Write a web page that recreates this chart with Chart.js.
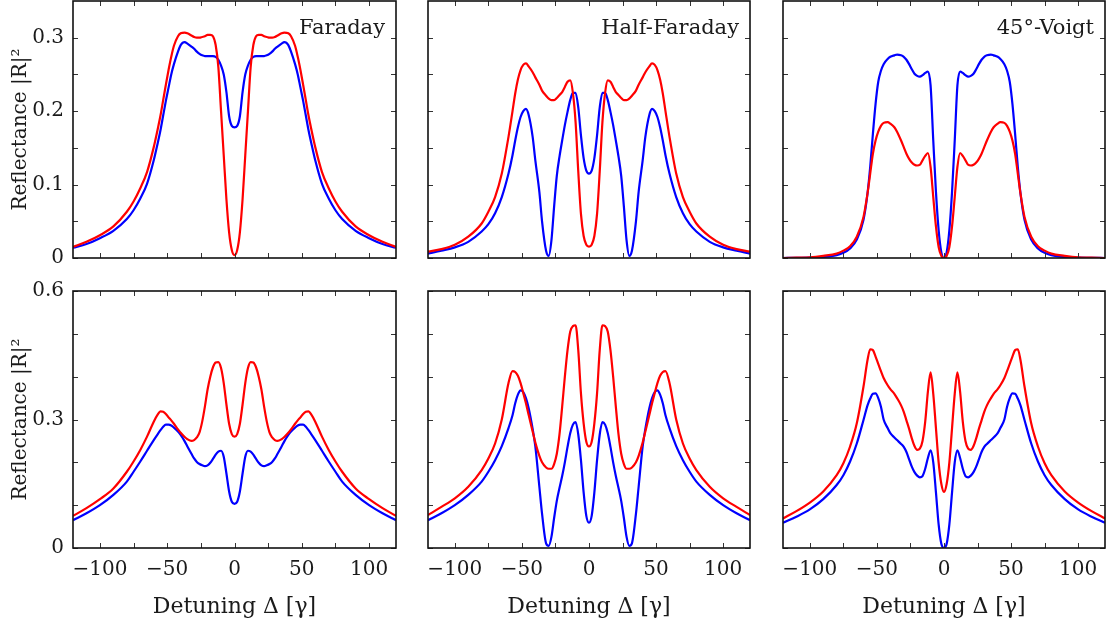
<!DOCTYPE html>
<html>
<head>
<meta charset="utf-8">
<title>Reflectance vs detuning</title>
<script src="https://cdn.jsdelivr.net/npm/chart.js@4.4.1/dist/chart.umd.min.js"></script>
<style>
  html, body { margin: 0; padding: 0; background: #fff; }
  #figure { position: relative; width: 1112px; height: 626px; overflow: hidden; }
  #figure canvas { position: absolute; }
</style>
</head>
<body>
<div id="figure"></div>
<script>
// detuning grid (units of gamma), shared by every curve
const detuning = [-120,-110,-100,-90,-80,-75,-70,-65,-60,-57,-55,-53,-51,-49,-47,-45,-42,-40,-37,-35,-32,-30,-28,-26,-24,-22,-20,-18,-16,-14,-12,-10,-8,-6,-4,-2,
  0,
  2,4,6,8,10,12,14,16,18,20,22,24,26,28,30,32,35,37,40,42,45,47,49,51,53,55,57,60,65,70,75,80,90,100,110,120];

// top row
const faradayBlueTop = [0.014,0.019,0.027,0.037,0.053,0.065,0.081,0.101,0.133,0.157,0.174,0.194,0.214,0.232,0.250,0.264,0.281,0.290,0.294,0.292,0.288,0.285,0.281,0.278,0.276,0.275,0.275,0.275,0.275,0.274,0.270,0.262,0.250,0.226,0.193,0.180,
  0.178,
  0.180,0.193,0.226,0.250,0.262,0.270,0.274,0.275,0.275,0.275,0.275,0.276,0.278,0.281,0.285,0.288,0.292,0.294,0.290,0.281,0.264,0.250,0.232,0.214,0.194,0.174,0.157,0.133,0.101,0.081,0.065,0.053,0.037,0.027,0.019,0.014];
const faradayRedTop = [0.015,0.022,0.031,0.043,0.063,0.077,0.095,0.117,0.151,0.176,0.194,0.215,0.236,0.256,0.274,0.289,0.302,0.306,0.307,0.306,0.303,0.301,0.300,0.300,0.301,0.302,0.304,0.304,0.302,0.290,0.260,0.200,0.140,0.080,0.035,0.011,
  0.004,
  0.011,0.035,0.080,0.140,0.200,0.260,0.290,0.302,0.304,0.304,0.302,0.301,0.300,0.300,0.301,0.303,0.306,0.307,0.306,0.302,0.289,0.274,0.256,0.236,0.215,0.194,0.176,0.151,0.117,0.095,0.077,0.063,0.043,0.031,0.022,0.015];
const halfBlueTop = [0.006,0.010,0.0145,0.022,0.036,0.046,0.061,0.083,0.115,0.140,0.160,0.178,0.192,0.200,0.203,0.195,0.165,0.133,0.090,0.050,0.010,0.003,0.024,0.070,0.112,0.138,0.160,0.181,0.199,0.215,0.225,0.225,0.205,0.167,0.136,0.119,
  0.115,
  0.119,0.136,0.167,0.205,0.225,0.225,0.215,0.199,0.181,0.160,0.138,0.112,0.070,0.024,0.003,0.010,0.050,0.090,0.133,0.165,0.195,0.203,0.200,0.192,0.178,0.160,0.140,0.115,0.083,0.061,0.046,0.036,0.022,0.0145,0.010,0.006];
const halfRedTop = [0.0086,0.012,0.018,0.029,0.047,0.063,0.083,0.115,0.165,0.200,0.224,0.243,0.256,0.263,0.265,0.261,0.253,0.246,0.236,0.228,0.221,0.217,0.215,0.215,0.218,0.222,0.226,0.233,0.240,0.242,0.225,0.185,0.118,0.060,0.030,0.018,
  0.0155,
  0.018,0.030,0.060,0.118,0.185,0.225,0.242,0.240,0.233,0.226,0.222,0.218,0.215,0.215,0.217,0.221,0.228,0.236,0.246,0.253,0.261,0.265,0.263,0.256,0.243,0.224,0.200,0.165,0.115,0.083,0.063,0.047,0.029,0.018,0.012,0.0086];
const voigtBlueTop = [0.000,0.0003,0.0005,0.0014,0.004,0.007,0.013,0.025,0.052,0.088,0.124,0.169,0.210,0.240,0.255,0.264,0.271,0.274,0.276,0.277,0.276,0.274,0.270,0.264,0.257,0.251,0.248,0.247,0.249,0.252,0.254,0.235,0.160,0.090,0.038,0.008,
  0.000,
  0.008,0.038,0.090,0.160,0.235,0.254,0.252,0.249,0.247,0.248,0.251,0.257,0.264,0.270,0.274,0.276,0.277,0.276,0.274,0.271,0.264,0.255,0.240,0.210,0.169,0.124,0.088,0.052,0.025,0.013,0.007,0.004,0.0014,0.0005,0.0003,0.000];
const voigtRedTop = [0.000,0.0005,0.001,0.003,0.006,0.010,0.016,0.029,0.056,0.088,0.115,0.142,0.160,0.172,0.180,0.184,0.185,0.183,0.178,0.172,0.160,0.151,0.142,0.135,0.130,0.127,0.126,0.127,0.133,0.139,0.143,0.124,0.083,0.043,0.015,0.003,
  0.000,
  0.003,0.015,0.043,0.083,0.124,0.143,0.139,0.133,0.127,0.126,0.127,0.130,0.135,0.142,0.151,0.160,0.172,0.178,0.183,0.185,0.184,0.180,0.172,0.160,0.142,0.115,0.088,0.056,0.029,0.016,0.010,0.006,0.003,0.001,0.0005,0.000];

// bottom row
const faradayBlueBottom = [0.065,0.081,0.100,0.124,0.155,0.178,0.202,0.227,0.252,0.266,0.275,0.283,0.288,0.288,0.286,0.281,0.272,0.264,0.249,0.237,0.220,0.209,0.201,0.196,0.193,0.191,0.193,0.199,0.208,0.218,0.225,0.227,0.213,0.174,0.132,0.108,
  0.103,
  0.108,0.132,0.174,0.213,0.227,0.225,0.218,0.208,0.199,0.193,0.191,0.193,0.196,0.201,0.209,0.220,0.237,0.249,0.264,0.272,0.281,0.286,0.288,0.288,0.283,0.275,0.266,0.252,0.227,0.202,0.178,0.155,0.124,0.100,0.081,0.065];
const faradayRedBottom = [0.075,0.093,0.114,0.139,0.178,0.202,0.229,0.260,0.295,0.312,0.319,0.318,0.313,0.305,0.298,0.290,0.277,0.269,0.259,0.254,0.250,0.252,0.258,0.270,0.295,0.330,0.370,0.400,0.422,0.433,0.434,0.420,0.385,0.335,0.290,0.266,
  0.260,
  0.266,0.290,0.335,0.385,0.420,0.434,0.433,0.422,0.400,0.370,0.330,0.295,0.270,0.258,0.252,0.250,0.254,0.259,0.269,0.277,0.290,0.298,0.305,0.313,0.318,0.319,0.312,0.295,0.260,0.229,0.202,0.178,0.139,0.114,0.093,0.075];
const halfBlueBottom = [0.065,0.081,0.100,0.124,0.155,0.178,0.205,0.238,0.280,0.310,0.338,0.358,0.368,0.364,0.350,0.327,0.278,0.237,0.143,0.080,0.011,0.005,0.026,0.070,0.110,0.140,0.168,0.200,0.236,0.268,0.288,0.294,0.265,0.205,0.130,0.075,
  0.059,
  0.075,0.130,0.205,0.265,0.294,0.288,0.268,0.236,0.200,0.168,0.140,0.110,0.070,0.026,0.005,0.011,0.080,0.143,0.237,0.278,0.327,0.350,0.364,0.368,0.358,0.338,0.310,0.280,0.238,0.205,0.178,0.155,0.124,0.100,0.081,0.065];
const halfRedBottom = [0.077,0.096,0.116,0.143,0.182,0.209,0.244,0.300,0.385,0.413,0.411,0.402,0.385,0.362,0.338,0.311,0.272,0.246,0.215,0.200,0.188,0.185,0.185,0.196,0.220,0.265,0.330,0.400,0.462,0.505,0.518,0.520,0.462,0.361,0.291,0.248,
  0.237,
  0.248,0.291,0.361,0.462,0.520,0.518,0.505,0.462,0.400,0.330,0.265,0.220,0.196,0.185,0.185,0.188,0.200,0.215,0.246,0.272,0.311,0.338,0.362,0.385,0.402,0.411,0.413,0.385,0.300,0.244,0.209,0.182,0.143,0.116,0.096,0.077];
const voigtBlueBottom = [0.059,0.073,0.090,0.114,0.147,0.170,0.202,0.244,0.299,0.333,0.349,0.360,0.361,0.350,0.330,0.300,0.280,0.268,0.258,0.252,0.243,0.236,0.224,0.207,0.190,0.177,0.169,0.165,0.168,0.185,0.210,0.228,0.200,0.130,0.055,0.010,
  0.000,
  0.010,0.055,0.130,0.200,0.228,0.210,0.185,0.168,0.165,0.169,0.177,0.190,0.207,0.224,0.236,0.243,0.252,0.258,0.268,0.280,0.300,0.330,0.350,0.361,0.360,0.349,0.333,0.299,0.244,0.202,0.170,0.147,0.114,0.090,0.073,0.059];
const voigtRedBottom = [0.069,0.086,0.106,0.132,0.170,0.198,0.237,0.291,0.377,0.439,0.464,0.462,0.447,0.430,0.413,0.397,0.380,0.371,0.360,0.350,0.333,0.318,0.298,0.278,0.256,0.238,0.229,0.232,0.250,0.295,0.365,0.410,0.360,0.280,0.200,0.150,
  0.131,
  0.150,0.200,0.280,0.360,0.410,0.365,0.295,0.250,0.232,0.229,0.238,0.256,0.278,0.298,0.318,0.333,0.350,0.360,0.371,0.380,0.397,0.413,0.430,0.447,0.462,0.464,0.439,0.377,0.291,0.237,0.198,0.170,0.132,0.106,0.086,0.069];

// ticks and labels
const xTicks = [-100, -75, -50, -25, 0, 25, 50, 75, 100];
const xLabels = [-100, -50, 0, 50, 100];
const yTicksTop = [0, 0.05, 0.1, 0.15, 0.2, 0.25, 0.3];
const yLabelsTop = [0, 0.1, 0.2, 0.3];
const yTicksBottom = [0, 0.1, 0.2, 0.3, 0.4, 0.5, 0.6];
const yLabelsBottom = [0, 0.3, 0.6];
const yMax = [0.35, 0.6];
const panelTitles = ['Faraday', 'Half-Faraday', '45°-Voigt'];

// figure geometry (plot areas in page pixels)
const colLeft = [73, 428, 783];
const colWidth = [323, 322, 322];
const rowTop = [1, 291];
const rowHeight = [257, 257];
const AXIS_W = 73, AXIS_H = 78, PAD_T = 16, PAD_R = 10;

const serif = '"DejaVu Serif", "Liberation Serif", serif';
Chart.defaults.font.family = serif;
Chart.defaults.font.size = 20;
Chart.defaults.color = '#1a1a1a';

// inward tick marks on all four sides, the box and the panel name
const frameAndTicks = {
    id: 'frameAndTicks',
    afterDatasetsDraw(chart, args, opts) {
        const { ctx, chartArea: a, scales: { x, y } } = chart;
        ctx.save();
        ctx.strokeStyle = '#333';
        ctx.lineWidth = 1;
        ctx.beginPath();
        x.ticks.forEach(t => {
            const px = Math.round(x.getPixelForValue(t.value)) + 0.5;
            ctx.moveTo(px, a.bottom); ctx.lineTo(px, a.bottom - 5);
            ctx.moveTo(px, a.top); ctx.lineTo(px, a.top + 5);
        });
        y.ticks.forEach(t => {
            const py = Math.round(y.getPixelForValue(t.value)) + 0.5;
            ctx.moveTo(a.left, py); ctx.lineTo(a.left + 5, py);
            ctx.moveTo(a.right, py); ctx.lineTo(a.right - 5, py);
        });
        ctx.stroke();
        ctx.strokeStyle = '#111';
        ctx.lineWidth = 1.6;
        ctx.strokeRect(a.left, a.top, a.right - a.left, a.bottom - a.top);
        if (opts.text) {
            ctx.font = `21px ${serif}`;
            ctx.fillStyle = '#1a1a1a';
            ctx.textAlign = 'right';
            ctx.textBaseline = 'alphabetic';
            ctx.fillText(opts.text, a.right - 11, a.top + 33);
        }
        ctx.restore();
    }
};

const near = (list, v) => list.some(l => Math.abs(l - v) < 1e-9);
const fmtX = v => v < 0 ? '\u2212' + Math.abs(v) : String(v);
const fmtY = v => v === 0 ? '0' : v.toFixed(1);
const toPoints = ys => detuning.map((d, i) => ({ x: d, y: ys[i] }));

const fig = document.getElementById('figure');

function addPanel(row, col, red, blue) {
    const w = AXIS_W + colWidth[col] + PAD_R;
    const h = PAD_T + rowHeight[row] + AXIS_H;
    const canvas = document.createElement('canvas');
    canvas.width = w;
    canvas.height = h;
    canvas.style.left = (colLeft[col] - AXIS_W) + 'px';
    canvas.style.top = (rowTop[row] - PAD_T) + 'px';
    canvas.style.width = w + 'px';
    canvas.style.height = h + 'px';
    fig.appendChild(canvas);

    const yTicks = row === 0 ? yTicksTop : yTicksBottom;
    const yLabels = row === 0 ? yLabelsTop : yLabelsBottom;
    const line = { pointRadius: 0, borderWidth: 2.2, fill: false, cubicInterpolationMode: 'monotone' };

    new Chart(canvas, {
        type: 'line',
        data: {
            datasets: [
                { ...line, data: toPoints(red), borderColor: '#ff0000' },
                { ...line, data: toPoints(blue), borderColor: '#0000ff' }
            ]
        },
        options: {
            responsive: false,
            animation: false,
            devicePixelRatio: 1,
            layout: { padding: { left: 0, right: PAD_R, top: PAD_T, bottom: 0 } },
            plugins: {
                legend: { display: false },
                tooltip: { enabled: false },
                frameAndTicks: { text: row === 0 ? panelTitles[col] : '' }
            },
            scales: {
                x: {
                    type: 'linear', min: -120, max: 120,
                    afterBuildTicks: s => { s.ticks = xTicks.map(v => ({ value: v })); },
                    afterFit: s => { s.height = AXIS_H; s.paddingLeft = 0; s.paddingRight = 0; },
                    grid: { display: false, drawTicks: false },
                    border: { display: false },
                    ticks: { display: row === 1, padding: 10, autoSkip: false, maxRotation: 0,
                             callback: v => near(xLabels, v) ? fmtX(v) : '' },
                    title: { display: row === 1, text: 'Detuning Δ [γ]', font: { size: 22 },
                             padding: { top: 0, bottom: 6 } }
                },
                y: {
                    type: 'linear', min: 0, max: yMax[row],
                    afterBuildTicks: s => { s.ticks = yTicks.map(v => ({ value: v })); },
                    afterFit: s => { s.width = AXIS_W; s.paddingTop = 0; s.paddingBottom = 0; },
                    grid: { display: false, drawTicks: false },
                    border: { display: false },
                    ticks: { display: col === 0, padding: 9, autoSkip: false,
                             callback: v => near(yLabels, v) ? fmtY(v) : '' },
                    title: { display: col === 0, text: 'Reflectance |R|²', padding: { top: 9, bottom: 0 } }
                }
            }
        },
        plugins: [frameAndTicks]
    });
}

addPanel(0, 0, faradayRedTop, faradayBlueTop);
addPanel(0, 1, halfRedTop, halfBlueTop);
addPanel(0, 2, voigtRedTop, voigtBlueTop);
addPanel(1, 0, faradayRedBottom, faradayBlueBottom);
addPanel(1, 1, halfRedBottom, halfBlueBottom);
addPanel(1, 2, voigtRedBottom, voigtBlueBottom);
</script>
</body>
</html>
